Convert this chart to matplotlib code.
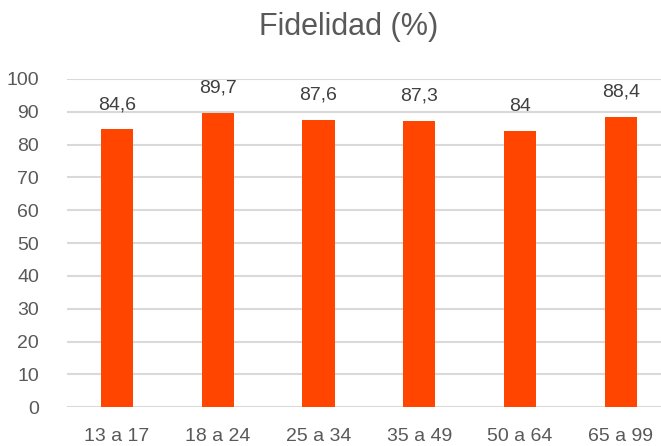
import matplotlib.pyplot as plt
import matplotlib
from matplotlib import font_manager

names = {f.name for f in font_manager.fontManager.ttflist}
family = 'Liberation Sans Narrow' if 'Liberation Sans Narrow' in names else 'Liberation Sans'
matplotlib.rcParams['font.family'] = [family, 'DejaVu Sans']

categories = ['13 a 17', '18 a 24', '25 a 34', '35 a 49', '50 a 64', '65 a 99']
values = [84.6, 89.7, 87.6, 87.3, 84, 88.4]
labels = ['84,6', '89,7', '87,6', '87,3', '84', '88,4']

TEXT = '#595959'

fig = plt.figure(figsize=(6.61, 4.46), dpi=100)
ax = fig.add_axes([0.101, 0.087, 0.899, 0.736])

x = range(len(categories))
bars = ax.bar(x, values, width=0.32, color='#FF4500', zorder=3)

for bar, lab in zip(bars, labels):
    ax.text(bar.get_x() + bar.get_width() / 2, bar.get_height() + 5, lab,
            ha='center', va='bottom', fontsize=14, color='#404040')

ax.set_xlim(-0.5, 5.4)
ax.set_ylim(0, 100)
ax.set_yticks(range(0, 101, 10))
ax.set_xticks(list(x))
ax.set_xticklabels(categories)
ax.tick_params(axis='both', length=0, labelsize=14, colors=TEXT)
ax.tick_params(axis='x', pad=15)
ax.tick_params(axis='y', pad=20)
ax.yaxis.grid(True, color='#d9d9d9', linewidth=1.5, zorder=0)
for sp in ax.spines.values():
    sp.set_visible(False)

fig.text(0.527, 0.94, 'Fidelidad (%)', ha='center', va='center',
         fontsize=22, color=TEXT)

plt.savefig('out.png', dpi=100, facecolor='white')
